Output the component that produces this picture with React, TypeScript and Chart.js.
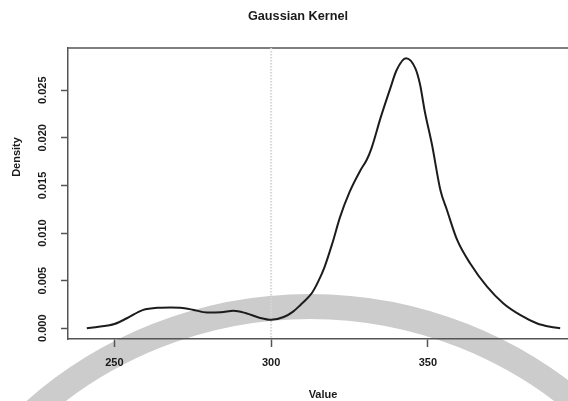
import React, { useEffect, useRef } from "react";
import { Chart, registerables } from "chart.js";

Chart.register(...registerables);

// ---- data ----
const densityX = [
  241.2, 245, 250, 254, 259, 264, 268, 271, 275, 279.5, 284, 288, 292, 296.5, 300,
  304, 307, 309.5, 311, 313, 315, 317, 319.5, 322, 325, 328.5, 330.5, 332, 335, 338,
  340, 343, 346, 347.5, 349, 351.3, 354, 356.1, 359.3, 363.5, 368.8, 374.1, 379.4,
  384.7, 389, 392.2,
];
const densityY = [
  0.0, 0.00015, 0.00045, 0.00105, 0.0019, 0.00215, 0.00218, 0.00215, 0.00195, 0.00166,
  0.00168, 0.00185, 0.00158, 0.00108, 0.00088, 0.00118, 0.00175, 0.0025, 0.00297,
  0.0037, 0.0049, 0.0064, 0.0089, 0.0117, 0.0143, 0.0166, 0.0177, 0.0189, 0.0222,
  0.0252, 0.0271, 0.02836, 0.0273, 0.0256, 0.0228, 0.0193, 0.0145, 0.0124, 0.0093,
  0.0068, 0.0044, 0.0026, 0.0014, 0.00053, 0.00015, 0.0,
];
const xTicks = [250, 300, 350];
const xTickLabels = ["250", "300", "350"];
const yTicks = [0, 0.005, 0.01, 0.015, 0.02, 0.025];
const yTickLabels = ["0.000", "0.005", "0.010", "0.015", "0.020", "0.025"];
const xRange = [235.2, 398.2];
const yRange = [-0.00113, 0.02944];
const refLineX = 300;
const titleText = "Gaussian Kernel";
const xLabel = "Value";
const yLabel = "Density";

const FONT = '"Liberation Sans", Arial, Helvetica, sans-serif';
const AXIS_COLOR = "#555555";
const TEXT_COLOR = "#1a1a1a";

const decorPlugin = {
  id: "decor",
  beforeDraw(chart: any) {
    const ctx = chart.ctx;
    ctx.save();
    ctx.strokeStyle = "#cccccc";
    ctx.lineWidth = 25;
    ctx.beginPath();
    ctx.arc(310, 723, 416.5, Math.PI, 2 * Math.PI);
    ctx.stroke();
    ctx.restore();
  },
  beforeDatasetsDraw(chart: any) {
    const ctx = chart.ctx;
    const { left, right, top, bottom } = chart.chartArea;
    const xs = chart.scales.x;
    ctx.save();
    // top and right border of the plot box
    ctx.strokeStyle = AXIS_COLOR;
    ctx.lineWidth = 1.5;
    ctx.beginPath();
    ctx.moveTo(left, top);
    ctx.lineTo(right, top);
    ctx.lineTo(right, bottom);
    ctx.stroke();
    // dotted reference line
    const px = xs.getPixelForValue(refLineX);
    ctx.strokeStyle = "#d6d6d6";
    ctx.lineWidth = 2;
    ctx.setLineDash([1.5, 1.5]);
    ctx.beginPath();
    ctx.moveTo(px, top);
    ctx.lineTo(px, bottom);
    ctx.stroke();
    ctx.restore();
  },
  afterDraw(chart: any) {
    const ctx = chart.ctx;
    ctx.save();
    ctx.fillStyle = TEXT_COLOR;
    ctx.textAlign = "center";
    ctx.textBaseline = "middle";
    ctx.font = `bold 12.7px ${FONT}`;
    ctx.fillText(titleText, 298, 16);
    ctx.font = `bold 11px ${FONT}`;
    ctx.fillText(xLabel, 323, 395);
    ctx.translate(17, 157);
    ctx.rotate(-Math.PI / 2);
    ctx.fillText(yLabel, 0, 0);
    ctx.restore();
  },
};

export default function App() {
  const canvasRef = useRef<HTMLCanvasElement | null>(null);

  useEffect(() => {
    if (!canvasRef.current) return;
    const points = densityX.map((x, i) => ({ x, y: densityY[i] }));
    const chart = new Chart(canvasRef.current, {
      type: "line",
      data: {
        datasets: [
          {
            data: points,
            borderColor: "#1c1c1c",
            borderWidth: 2,
            pointRadius: 0,
            fill: false,
            tension: 0.4,
            cubicInterpolationMode: "monotone",
          },
        ],
      },
      options: {
        responsive: false,
        devicePixelRatio: 1,
        animation: false,
        layout: { padding: { top: 48, right: 21, left: 0, bottom: 0 } },
        plugins: {
          legend: { display: false },
          title: { display: false },
          tooltip: { enabled: false },
        },
        scales: {
          x: {
            type: "linear",
            min: xRange[0],
            max: xRange[1],
            afterBuildTicks: (s: any) => {
              s.ticks = xTicks.map((v) => ({ value: v }));
            },
            afterFit: (s: any) => {
              s.height = 62;
            },
            ticks: {
              autoSkip: false,
              maxRotation: 0,
              minRotation: 0,
              padding: 9,
              color: TEXT_COLOR,
              font: { family: FONT, size: 11, weight: "bold" },
              callback: (v: any) => xTickLabels[xTicks.indexOf(Number(v))] ?? "",
            },
            grid: {
              drawOnChartArea: false,
              drawTicks: true,
              tickLength: 8,
              tickColor: AXIS_COLOR,
              tickWidth: 1.5,
            },
            border: { display: true, color: AXIS_COLOR, width: 1.5 },
          },
          y: {
            type: "linear",
            min: yRange[0],
            max: yRange[1],
            afterBuildTicks: (s: any) => {
              s.ticks = yTicks.map((v) => ({ value: v }));
            },
            afterFit: (s: any) => {
              s.width = 68;
            },
            ticks: {
              autoSkip: false,
              includeBounds: false,
              minRotation: 90,
              maxRotation: 90,
              crossAlign: "center",
              padding: 4,
              color: TEXT_COLOR,
              font: { family: FONT, size: 11, weight: "bold" },
              callback: (v: any) => {
                const i = yTicks.findIndex((t) => Math.abs(t - Number(v)) < 1e-9);
                return i >= 0 ? yTickLabels[i] : "";
              },
            },
            grid: {
              drawOnChartArea: false,
              drawTicks: true,
              tickLength: 7,
              tickColor: AXIS_COLOR,
              tickWidth: 1.5,
            },
            border: { display: true, color: AXIS_COLOR, width: 1.5 },
          },
        },
      },
      plugins: [decorPlugin],
    } as any);
    return () => chart.destroy();
  }, []);

  return (
    <div
      style={{
        position: "absolute",
        left: 0,
        top: 0,
        width: 568,
        height: 401,
        overflow: "hidden",
        background: "#ffffff",
      }}
    >
      <canvas
        ref={canvasRef}
        width={600}
        height={401}
        style={{ display: "block", width: 600, height: 401 }}
      />
    </div>
  );
}
